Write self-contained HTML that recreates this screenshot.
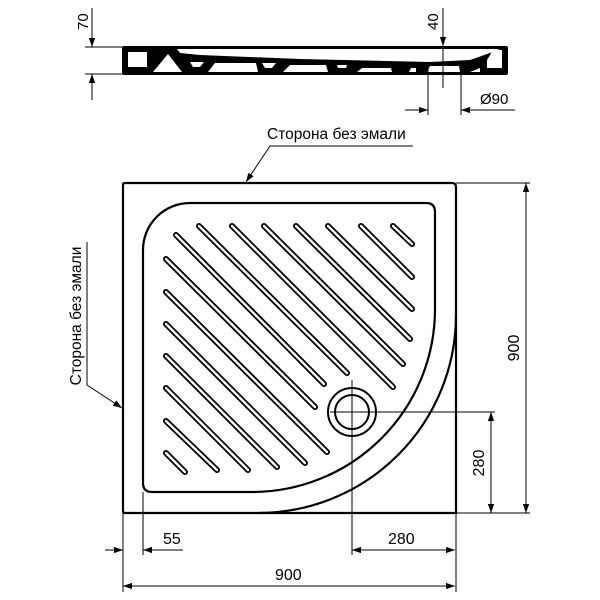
<!DOCTYPE html>
<html><head><meta charset="utf-8"><style>html,body{margin:0;padding:0;background:#fff}svg{display:block}</style></head>
<body>
<svg width="600" height="600" viewBox="0 0 600 600" xmlns="http://www.w3.org/2000/svg" font-family="Liberation Sans, DejaVu Sans, sans-serif">
<defs>
<marker id="a" viewBox="0 0 10 10" refX="10" refY="5" markerWidth="9" markerHeight="9" markerUnits="userSpaceOnUse" orient="auto-start-reverse"><path d="M0,1.5 L10,5 L0,8.5 z" fill="#000"/></marker>
</defs>
<!-- side profile -->
<rect x="122" y="46" width="386" height="29" rx="2" fill="#000"/>
<path d="M177,49 L500,49 L490,53 L470,60 L430,62 L300,59 L200,55 L180,53 Z" fill="#fff"/>
<path d="M128,52 L147,52 L147,67 L128,67 Z" fill="#fff"/>
<path d="M153,72 L182,72 L168,54 Z" fill="#fff"/>
<path d="M190,62 L204,62 L200,67 L193,67 Z" fill="#fff"/>
<path d="M208,72 L258,72 L256,63 L215,63 Z" fill="#fff"/>
<path d="M262,63 L276,63 L272,68 L265,68 Z" fill="#fff"/>
<path d="M283,72 L328,72 L326,65 L290,65 Z" fill="#fff"/>
<path d="M337,65 L347,65 L346,68 L338,68 Z" fill="#fff"/>
<path d="M357,72 L392,72 L391,68 L362,68 Z" fill="#fff"/>
<path d="M409,72 L416,72 L416,68 L411,68 Z" fill="#fff"/>
<path d="M427,72 L460,72 L459,66 L430,66 Z" fill="#fff"/>
<path d="M470,72 L480,72 L480,68 Z" fill="#fff"/>
<path d="M487,68 L502,68 L502,50 L493,50 L487,60 Z" fill="#fff"/>
<g stroke="#000" stroke-width="1" fill="none">
<line x1="85" y1="47" x2="122" y2="47"/><line x1="85" y1="74" x2="122" y2="74"/>
<line x1="92" y1="8" x2="92" y2="47" marker-end="url(#a)"/>
<line x1="92" y1="100" x2="92" y2="74" marker-end="url(#a)"/>
<line x1="443" y1="8" x2="443" y2="46" marker-end="url(#a)"/>
<line x1="443" y1="46" x2="443" y2="88"/>
<line x1="428" y1="68" x2="428" y2="115"/><line x1="461" y1="68" x2="461" y2="115"/>
<line x1="405" y1="110" x2="428" y2="110" marker-end="url(#a)"/>
<line x1="515" y1="110" x2="461" y2="110" marker-end="url(#a)"/>
</g>
<text x="0" y="0" font-size="15" transform="translate(88,30) rotate(-90)">70</text>
<text x="0" y="0" font-size="15" transform="translate(438,30) rotate(-90)">40</text>
<text x="480" y="104" font-size="15">Ø90</text>
<!-- top view -->
<path d="M125,183 L452,183 Q456,183 456,187 L456,513 L125,513 Q123,513 123,511 L123,185 Q123,183 125,183 Z" fill="none" stroke="#000" stroke-width="2.2"/>
<path d="M456,315 A198,198 0 0 1 258,513" fill="none" stroke="#000" stroke-width="2.2"/>
<path d="M190,203 L426,203 Q435,203 435,212 L435,309 A183,183 0 0 1 252,492 L152,492 Q143,492 143,483 L143,250 A47,47 0 0 1 190,203 Z" fill="none" stroke="#000" stroke-width="2.2"/>
<g stroke-linecap="round">
<g stroke="#000" stroke-width="6">
<line x1="176" y1="235" x2="324" y2="384"/><line x1="199" y1="226" x2="347" y2="373"/><line x1="232" y1="226" x2="393" y2="387"/><line x1="264" y1="226" x2="403" y2="364"/><line x1="296" y1="226" x2="410" y2="339"/><line x1="328" y1="226" x2="412" y2="309"/><line x1="361" y1="226" x2="412" y2="277"/><line x1="393" y1="226" x2="412" y2="244"/>
<line x1="166" y1="259" x2="315" y2="407"/><line x1="166" y1="292" x2="327" y2="452"/><line x1="166" y1="324" x2="305" y2="463"/><line x1="166" y1="356" x2="277" y2="467"/><line x1="166" y1="388" x2="248" y2="470"/><line x1="166" y1="421" x2="217" y2="470"/><line x1="166" y1="453" x2="185" y2="472"/>
</g>
<g stroke="#fff" stroke-width="2.4">
<line x1="176" y1="235" x2="324" y2="384"/><line x1="199" y1="226" x2="347" y2="373"/><line x1="232" y1="226" x2="393" y2="387"/><line x1="264" y1="226" x2="403" y2="364"/><line x1="296" y1="226" x2="410" y2="339"/><line x1="328" y1="226" x2="412" y2="309"/><line x1="361" y1="226" x2="412" y2="277"/><line x1="393" y1="226" x2="412" y2="244"/>
<line x1="166" y1="259" x2="315" y2="407"/><line x1="166" y1="292" x2="327" y2="452"/><line x1="166" y1="324" x2="305" y2="463"/><line x1="166" y1="356" x2="277" y2="467"/><line x1="166" y1="388" x2="248" y2="470"/><line x1="166" y1="421" x2="217" y2="470"/><line x1="166" y1="453" x2="185" y2="472"/>
</g>
</g>
<circle cx="352" cy="412" r="24" fill="#fff" stroke="#000" stroke-width="2"/>
<circle cx="352" cy="412" r="17" fill="#fff" stroke="#000" stroke-width="2"/>
<g stroke="#000" stroke-width="1" fill="none">
<line x1="330" y1="412" x2="495" y2="412"/>
<line x1="352" y1="380" x2="352" y2="555"/>
<line x1="123" y1="513" x2="123" y2="592"/><line x1="143" y1="492" x2="143" y2="555"/><line x1="456" y1="513" x2="456" y2="592"/>
<line x1="456" y1="513" x2="530" y2="513"/><line x1="456" y1="183" x2="530" y2="183"/>
<line x1="526" y1="513" x2="526" y2="183" marker-end="url(#a)"/><line x1="526" y1="183" x2="526" y2="513" marker-end="url(#a)"/>
<line x1="491" y1="513" x2="491" y2="412" marker-end="url(#a)"/><line x1="491" y1="412" x2="491" y2="513" marker-end="url(#a)"/>
<line x1="105" y1="550" x2="123" y2="550" marker-end="url(#a)"/>
<line x1="183" y1="550" x2="143" y2="550" marker-end="url(#a)"/>
<line x1="455" y1="550" x2="352" y2="550" marker-end="url(#a)"/><line x1="352" y1="550" x2="455" y2="550" marker-end="url(#a)"/>
<line x1="455" y1="586" x2="123" y2="586" marker-end="url(#a)"/><line x1="123" y1="586" x2="455" y2="586" marker-end="url(#a)"/>
<polyline points="413,146 270,146 246,182" marker-end="url(#a)"/>
<polyline points="87,242 87,385 122,408" marker-end="url(#a)"/>
</g>
<text x="163" y="544" font-size="16">55</text>
<text x="388" y="544" font-size="16">280</text>
<text x="275" y="580" font-size="16">900</text>
<text x="0" y="0" font-size="16" text-anchor="middle" transform="translate(519,348) rotate(-90)">900</text>
<text x="0" y="0" font-size="16" text-anchor="middle" transform="translate(484,463) rotate(-90)">280</text>
<text x="267" y="139" font-size="15.5">Сторона без эмали</text>
<text x="0" y="0" font-size="15.5" text-anchor="middle" transform="translate(81,316) rotate(-90)">Сторона без эмали</text>
</svg>
</body></html>
